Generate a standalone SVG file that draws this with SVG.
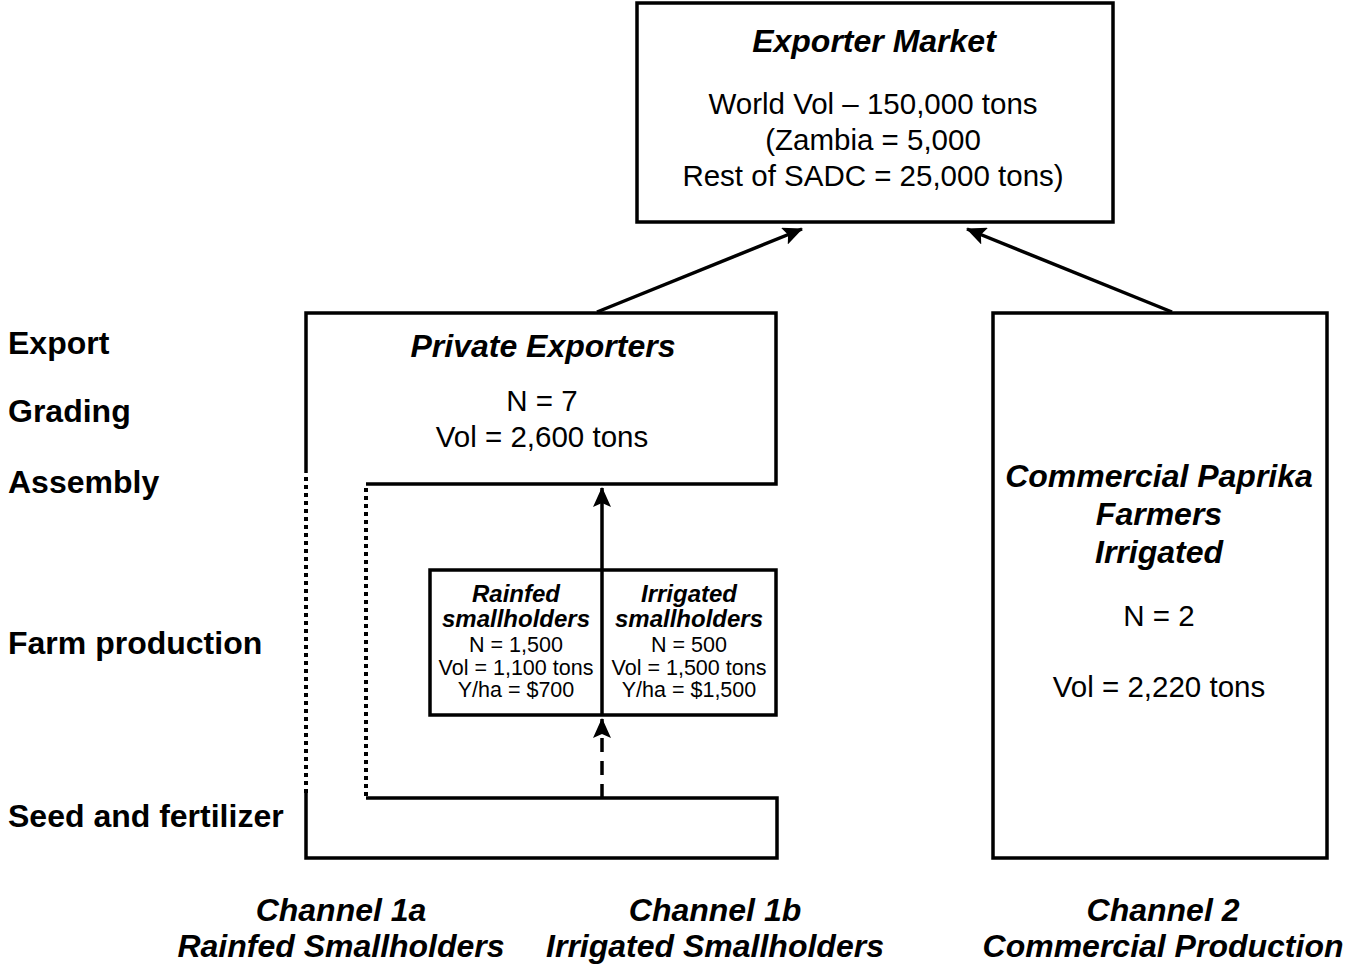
<svg xmlns="http://www.w3.org/2000/svg" width="1353" height="964" viewBox="0 0 1353 964">
<style>
.ln{fill:none;stroke:#000;stroke-width:3.5}
.dot{fill:none;stroke:#000;stroke-width:4;stroke-dasharray:4 4}
.box{fill:#fff;stroke:#000;stroke-width:3.5}
text{font-family:"Liberation Sans",Arial,sans-serif;fill:#000}
.bi{font-weight:bold;font-style:italic;font-size:32px}
.b{font-weight:bold;font-size:32px}
.r{font-size:29.5px}
.sbi{font-weight:bold;font-style:italic;font-size:24px}
.sr{font-size:21.5px}
.c{text-anchor:middle}
</style>
<defs>
<marker id="ah" markerUnits="userSpaceOnUse" markerWidth="22" markerHeight="18" refX="19" refY="9" orient="auto">
<path d="M0,0 L20,9 L0,18 L4,9 Z" fill="#000"/>
</marker>
</defs>
<g id="labels">
<text class="b" x="8" y="354">Export</text>
<text class="b" x="8" y="422">Grading</text>
<text class="b" x="8" y="493">Assembly</text>
<text class="b" x="8" y="654">Farm production</text>
<text class="b" x="8" y="827">Seed and fertilizer</text>
</g>
<g id="exporter-market">
<rect class="box" x="637" y="3" width="476" height="219"/>
<text class="bi c" x="874" y="52">Exporter Market</text>
<text class="r c" x="873" y="114">World Vol – 150,000 tons</text>
<text class="r c" x="873" y="150">(Zambia = 5,000</text>
<text class="r c" x="873" y="186">Rest of SADC = 25,000 tons)</text>
</g>
<g id="private-exporters">
<path class="ln" d="M306,473 V313 H776 V484 H366"/>
<path class="dot" d="M306,477 V793"/>
<path class="dot" d="M366,488 V798"/>
<path class="ln" d="M366,798 H777 V858 H306 V793"/>
<text class="bi c" x="543" y="357">Private Exporters</text>
<text class="r c" x="542" y="411">N = 7</text>
<text class="r c" x="542" y="447">Vol = 2,600 tons</text>
</g>
<g id="smallholders">
<rect class="box" x="430" y="570" width="346" height="145"/>
<line class="ln" x1="602" y1="570" x2="602" y2="715"/>
<text class="sbi c" x="516" y="602">Rainfed</text>
<text class="sbi c" x="516" y="627">smallholders</text>
<text class="sr c" x="516" y="652">N = 1,500</text>
<text class="sr c" x="516" y="675">Vol = 1,100 tons</text>
<text class="sr c" x="516" y="697">Y/ha = $700</text>
<text class="sbi c" x="689" y="602">Irrigated</text>
<text class="sbi c" x="689" y="627">smallholders</text>
<text class="sr c" x="689" y="652">N = 500</text>
<text class="sr c" x="689" y="675">Vol = 1,500 tons</text>
<text class="sr c" x="689" y="697">Y/ha = $1,500</text>
</g>
<g id="commercial">
<rect class="box" x="993" y="313" width="334" height="545"/>
<text class="bi c" x="1159" y="487">Commercial Paprika</text>
<text class="bi c" x="1159" y="525">Farmers</text>
<text class="bi c" x="1159" y="563">Irrigated</text>
<text class="r c" x="1159" y="626">N = 2</text>
<text class="r c" x="1159" y="697">Vol = 2,220 tons</text>
</g>
<g id="connectors">
<line class="ln" x1="597" y1="312" x2="802" y2="229" marker-end="url(#ah)"/>
<line class="ln" x1="1172" y1="312" x2="967" y2="229" marker-end="url(#ah)"/>
<line class="ln" x1="602" y1="570" x2="602" y2="488" marker-end="url(#ah)"/>
<line class="ln" x1="602" y1="798" x2="602" y2="719" stroke-dasharray="14 9" marker-end="url(#ah)"/>
</g>
<g id="channels">
<text class="bi c" x="341" y="921">Channel 1a</text>
<text class="bi c" x="341" y="957">Rainfed Smallholders</text>
<text class="bi c" x="715" y="921">Channel 1b</text>
<text class="bi c" x="715" y="957">Irrigated Smallholders</text>
<text class="bi c" x="1163" y="921">Channel 2</text>
<text class="bi c" x="1163" y="957">Commercial Production</text>
</g>
</svg>
